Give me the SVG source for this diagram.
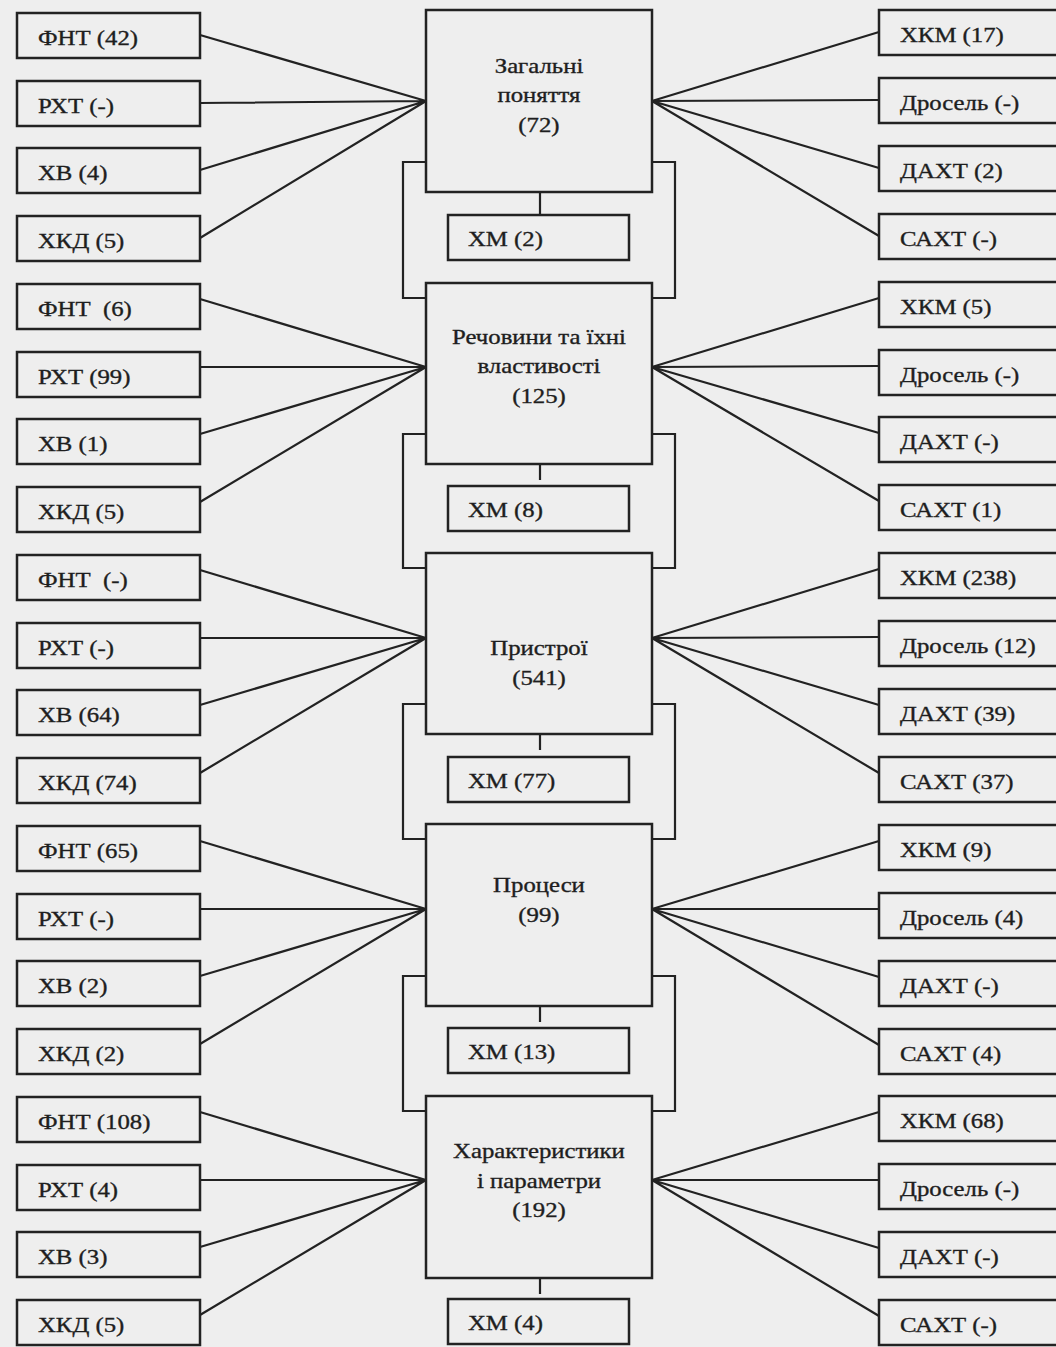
<svg xmlns="http://www.w3.org/2000/svg" width="1056" height="1347" viewBox="0 0 1056 1347">
<style>
.bg{fill:#eeeeee}
.box{fill:#eeeeee;stroke:#222;stroke-width:2.5}
.ln{fill:none;stroke:#222;stroke-width:2.2}
text{font-family:"Liberation Serif","Times New Roman",serif;font-size:21px;fill:#1e1e1e;stroke:#1e1e1e;stroke-width:0.35}
.l{transform-box:fill-box;transform-origin:0 50%;transform:scaleX(1.18)}
.c{text-anchor:middle;transform-box:fill-box;transform-origin:50% 50%;transform:scaleX(1.18)}
</style>
<rect class="bg" x="0" y="0" width="1056" height="1347"/>
<g id="connectors">
<!-- group 1 -->
<path class="ln" d="M200,35 L426,101 M200,103 L426,101 M200,170 L426,101 M200,238 L426,101"/>
<path class="ln" d="M879,32 L652,101 M879,100 L652,101 M879,168 L652,101 M879,236 L652,101"/>
<path class="ln" d="M540,192 V215"/>
<path class="ln" d="M426,162 H403 V298 H426 M652,162 H675 V298 H652"/>
<!-- group 2 -->
<path class="ln" d="M200,299 L426,367 M200,367 L426,367 M200,434 L426,367 M200,502 L426,367"/>
<path class="ln" d="M879,298 L652,367 M879,366 L652,367 M879,433 L652,367 M879,501 L652,367"/>
<path class="ln" d="M540,456 V480"/>
<path class="ln" d="M426,434 H403 V568 H426 M652,434 H675 V568 H652"/>
<!-- group 3 -->
<path class="ln" d="M200,570 L426,638 M200,638 L426,638 M200,705 L426,638 M200,773 L426,638"/>
<path class="ln" d="M879,569 L652,638 M879,637 L652,638 M879,705 L652,638 M879,773 L652,638"/>
<path class="ln" d="M540,726 V750"/>
<path class="ln" d="M426,704 H403 V839 H426 M652,704 H675 V839 H652"/>
<!-- group 4 -->
<path class="ln" d="M200,841 L426,909 M200,909 L426,909 M200,976 L426,909 M200,1044 L426,909"/>
<path class="ln" d="M879,841 L652,909 M879,909 L652,909 M879,977 L652,909 M879,1045 L652,909"/>
<path class="ln" d="M540,998 V1022"/>
<path class="ln" d="M426,976 H403 V1111 H426 M652,976 H675 V1111 H652"/>
<!-- group 5 -->
<path class="ln" d="M200,1112 L426,1180 M200,1180 L426,1180 M200,1247 L426,1180 M200,1315 L426,1180"/>
<path class="ln" d="M879,1112 L652,1180 M879,1180 L652,1180 M879,1248 L652,1180 M879,1316 L652,1180"/>
<path class="ln" d="M540,1270 V1294"/>
</g>

<!-- central nodes -->
<g id="n-zagalni"><rect class="box" x="426" y="10" width="226" height="182"/>
<text class="c" x="539" y="73">Загальні</text><text class="c" x="539" y="102">поняття</text><text class="c" x="539" y="132">(72)</text></g>
<g id="n-rechovyny"><rect class="box" x="426" y="283" width="226" height="181"/>
<text class="c" x="539" y="344">Речовини та їхні</text><text class="c" x="539" y="373">властивості</text><text class="c" x="539" y="403">(125)</text></g>
<g id="n-prystroi"><rect class="box" x="426" y="553" width="226" height="181"/>
<text class="c" x="539" y="655">Пристрої</text><text class="c" x="539" y="685">(541)</text></g>
<g id="n-protsesy"><rect class="box" x="426" y="824" width="226" height="182"/>
<text class="c" x="539" y="892">Процеси</text><text class="c" x="539" y="922">(99)</text></g>
<g id="n-kharakterystyky"><rect class="box" x="426" y="1096" width="226" height="182"/>
<text class="c" x="539" y="1158">Характеристики</text><text class="c" x="539" y="1188">і параметри</text><text class="c" x="539" y="1217">(192)</text></g>

<!-- XM nodes -->
<g id="xm1"><rect class="box" x="448" y="215" width="181" height="45"/><text class="l" x="468" y="246">ХМ (2)</text></g>
<g id="xm2"><rect class="box" x="448" y="486" width="181" height="45"/><text class="l" x="468" y="517">ХМ (8)</text></g>
<g id="xm3"><rect class="box" x="448" y="757" width="181" height="45"/><text class="l" x="468" y="788">ХМ (77)</text></g>
<g id="xm4"><rect class="box" x="448" y="1028" width="181" height="45"/><text class="l" x="468" y="1059">ХМ (13)</text></g>
<g id="xm5"><rect class="box" x="448" y="1299" width="181" height="45"/><text class="l" x="468" y="1330">ХМ (4)</text></g>

<!-- left nodes -->
<g id="l1"><rect class="box" x="17" y="13" width="183" height="45"/><text class="l" x="38" y="45">ФНТ (42)</text></g>
<g id="l2"><rect class="box" x="17" y="81" width="183" height="45"/><text class="l" x="38" y="113">РХТ (-)</text></g>
<g id="l3"><rect class="box" x="17" y="148" width="183" height="45"/><text class="l" x="38" y="180">ХВ (4)</text></g>
<g id="l4"><rect class="box" x="17" y="216" width="183" height="45"/><text class="l" x="38" y="248">ХКД (5)</text></g>
<g id="l5"><rect class="box" x="17" y="284" width="183" height="45"/><text class="l" x="38" y="316" xml:space="preserve">ФНТ  (6)</text></g>
<g id="l6"><rect class="box" x="17" y="352" width="183" height="45"/><text class="l" x="38" y="384">РХТ (99)</text></g>
<g id="l7"><rect class="box" x="17" y="419" width="183" height="45"/><text class="l" x="38" y="451">ХВ (1)</text></g>
<g id="l8"><rect class="box" x="17" y="487" width="183" height="45"/><text class="l" x="38" y="519">ХКД (5)</text></g>
<g id="l9"><rect class="box" x="17" y="555" width="183" height="45"/><text class="l" x="38" y="587" xml:space="preserve">ФНТ  (-)</text></g>
<g id="l10"><rect class="box" x="17" y="623" width="183" height="45"/><text class="l" x="38" y="655">РХТ (-)</text></g>
<g id="l11"><rect class="box" x="17" y="690" width="183" height="45"/><text class="l" x="38" y="722">ХВ (64)</text></g>
<g id="l12"><rect class="box" x="17" y="758" width="183" height="45"/><text class="l" x="38" y="790">ХКД (74)</text></g>
<g id="l13"><rect class="box" x="17" y="826" width="183" height="45"/><text class="l" x="38" y="858">ФНТ (65)</text></g>
<g id="l14"><rect class="box" x="17" y="894" width="183" height="45"/><text class="l" x="38" y="926">РХТ (-)</text></g>
<g id="l15"><rect class="box" x="17" y="961" width="183" height="45"/><text class="l" x="38" y="993">ХВ (2)</text></g>
<g id="l16"><rect class="box" x="17" y="1029" width="183" height="45"/><text class="l" x="38" y="1061">ХКД (2)</text></g>
<g id="l17"><rect class="box" x="17" y="1097" width="183" height="45"/><text class="l" x="38" y="1129">ФНТ (108)</text></g>
<g id="l18"><rect class="box" x="17" y="1165" width="183" height="45"/><text class="l" x="38" y="1197">РХТ (4)</text></g>
<g id="l19"><rect class="box" x="17" y="1232" width="183" height="45"/><text class="l" x="38" y="1264">ХВ (3)</text></g>
<g id="l20"><rect class="box" x="17" y="1300" width="183" height="45"/><text class="l" x="38" y="1332">ХКД (5)</text></g>

<!-- right nodes -->
<g id="r1"><rect class="box" x="879" y="10" width="185" height="45"/><text class="l" x="900" y="42">ХКМ (17)</text></g>
<g id="r2"><rect class="box" x="879" y="78" width="185" height="45"/><text class="l" x="900" y="110">Дросель (-)</text></g>
<g id="r3"><rect class="box" x="879" y="146" width="185" height="45"/><text class="l" x="900" y="178">ДАХТ (2)</text></g>
<g id="r4"><rect class="box" x="879" y="214" width="185" height="45"/><text class="l" x="900" y="246">САХТ (-)</text></g>
<g id="r5"><rect class="box" x="879" y="282" width="185" height="45"/><text class="l" x="900" y="314">ХКМ (5)</text></g>
<g id="r6"><rect class="box" x="879" y="350" width="185" height="45"/><text class="l" x="900" y="382">Дросель (-)</text></g>
<g id="r7"><rect class="box" x="879" y="417" width="185" height="45"/><text class="l" x="900" y="449">ДАХТ (-)</text></g>
<g id="r8"><rect class="box" x="879" y="485" width="185" height="45"/><text class="l" x="900" y="517">САХТ (1)</text></g>
<g id="r9"><rect class="box" x="879" y="553" width="185" height="45"/><text class="l" x="900" y="585">ХКМ (238)</text></g>
<g id="r10"><rect class="box" x="879" y="621" width="185" height="45"/><text class="l" x="900" y="653">Дросель (12)</text></g>
<g id="r11"><rect class="box" x="879" y="689" width="185" height="45"/><text class="l" x="900" y="721">ДАХТ (39)</text></g>
<g id="r12"><rect class="box" x="879" y="757" width="185" height="45"/><text class="l" x="900" y="789">САХТ (37)</text></g>
<g id="r13"><rect class="box" x="879" y="825" width="185" height="45"/><text class="l" x="900" y="857">ХКМ (9)</text></g>
<g id="r14"><rect class="box" x="879" y="893" width="185" height="45"/><text class="l" x="900" y="925">Дросель (4)</text></g>
<g id="r15"><rect class="box" x="879" y="961" width="185" height="45"/><text class="l" x="900" y="993">ДАХТ (-)</text></g>
<g id="r16"><rect class="box" x="879" y="1029" width="185" height="45"/><text class="l" x="900" y="1061">САХТ (4)</text></g>
<g id="r17"><rect class="box" x="879" y="1096" width="185" height="45"/><text class="l" x="900" y="1128">ХКМ (68)</text></g>
<g id="r18"><rect class="box" x="879" y="1164" width="185" height="45"/><text class="l" x="900" y="1196">Дросель (-)</text></g>
<g id="r19"><rect class="box" x="879" y="1232" width="185" height="45"/><text class="l" x="900" y="1264">ДАХТ (-)</text></g>
<g id="r20"><rect class="box" x="879" y="1300" width="185" height="45"/><text class="l" x="900" y="1332">САХТ (-)</text></g>
</svg>
